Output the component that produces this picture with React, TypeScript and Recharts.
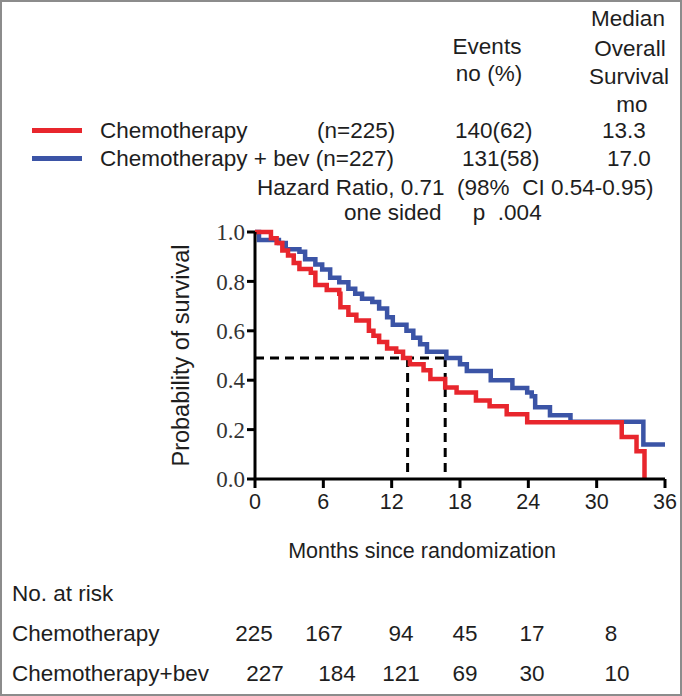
import { LineChart, Line, XAxis, YAxis, ReferenceLine } from 'recharts'

// Kaplan-Meier steps: [month, survival]
const chemoSteps: [number, number][] = [
  [0, 1.0], [1.4, 0.975], [1.9, 0.955], [2.4, 0.925], [2.9, 0.905], [3.4, 0.875],
  [3.9, 0.85], [4.9, 0.835], [5.3, 0.785], [6.3, 0.765], [7.4, 0.75], [7.5, 0.695],
  [8.2, 0.665], [8.9, 0.642], [10.0, 0.6], [10.4, 0.58], [10.9, 0.555], [11.6, 0.528],
  [12.4, 0.515], [13.0, 0.49], [13.6, 0.465], [14.8, 0.44], [15.4, 0.405], [16.7, 0.37],
  [17.7, 0.35], [19.4, 0.318], [20.6, 0.295], [22.1, 0.262], [23.9, 0.23], [32.2, 0.17],
  [33.5, 0.112], [34.2, 0.0],
]

const bevSteps: [number, number][] = [
  [0, 1.0], [0.35, 0.968], [2.1, 0.955], [2.7, 0.93], [3.9, 0.92], [4.4, 0.89],
  [5.3, 0.868], [5.9, 0.848], [6.6, 0.815], [7.4, 0.797], [8.2, 0.77], [8.8, 0.75],
  [9.4, 0.73], [10.3, 0.717], [10.9, 0.69], [11.6, 0.655], [12.1, 0.625], [13.3, 0.6],
  [13.9, 0.572], [14.5, 0.546], [15.1, 0.515], [16.8, 0.49], [18.0, 0.465], [18.6, 0.437],
  [20.7, 0.4], [22.6, 0.368], [23.9, 0.35], [24.3, 0.335], [24.6, 0.29], [25.9, 0.258],
  [27.7, 0.232], [34.1, 0.14], [36, 0.14],
]

const monthTicks = [0, 6, 12, 18, 24, 30, 36]
const survTicks = [0, 0.2, 0.4, 0.6, 0.8, 1.0]
const medianLevel = 0.49
const medians = [13.4, 16.7]

const atRiskChemo = [225, 167, 94, 45, 17, 8]
const atRiskBev = [227, 184, 121, 69, 30, 10]

const chemoData = chemoSteps.map(([t, s]) => ({ t, s }))
const bevData = bevSteps.map(([t, s]) => ({ t, s }))

const RED = '#e8262d'
const BLUE = '#3b54a6'
const SANS = '"Liberation Sans", Arial, sans-serif'
const SERIF = '"Liberation Serif", "Times New Roman", serif'

// column centres of the at-risk numbers (px)
const chemoCols = [252, 322, 399, 463, 530, 609]
const bevCols = [263, 335, 399, 463, 530, 615]

function T({ x, y, c, size, center, children }: { x: number; y: number; c?: string; size?: number; center?: boolean; children: any }) {
  return (
    <div
      style={{
        position: 'absolute',
        left: x,
        top: y,
        transform: center ? 'translate(-50%, -50%)' : 'translate(0, -50%)',
        whiteSpace: 'pre',
        fontFamily: SANS,
        fontSize: size ?? 22.5,
        lineHeight: 1,
        color: c ?? '#1e1e1e',
      }}
    >
      {children}
    </div>
  )
}

export default function App() {
  return (
    <div
      style={{
        position: 'relative',
        width: 682,
        height: 696,
        boxSizing: 'border-box',
        border: '2px solid #8c8c8c',
        background: '#fff',
        overflow: 'hidden',
      }}
    >
      <style>{'body{margin:0}'}</style>
      <div style={{ position: 'absolute', left: -2, top: -2 }}>
        <LineChart width={682} height={696} margin={{ top: 232, right: 17, bottom: 0, left: 195 }}>
          <XAxis
            type="number"
            dataKey="t"
            domain={[0, 36]}
            ticks={monthTicks}
            allowDuplicatedCategory={false}
            height={217}
            tickSize={9}
            tickMargin={6}
            stroke="#000"
            strokeWidth={3}
            tick={{ fontSize: 21.5, fontFamily: SANS, fill: '#1e1e1e' }}
          />
          <YAxis
            type="number"
            dataKey="s"
            domain={[0, 1]}
            ticks={survTicks}
            width={60}
            tickSize={8}
            tickMargin={2}
            stroke="#000"
            strokeWidth={3}
            tickFormatter={(v: number) => v.toFixed(1)}
            tick={{ fontSize: 23, fontFamily: SERIF, fill: '#333' }}
            label={{
              value: 'Probability of survival',
              angle: -90,
              position: 'left',
              offset: 14,
              style: { textAnchor: 'middle', fontSize: 23.5, fontFamily: SANS, fill: '#1e1e1e' },
            }}
          />
          <ReferenceLine
            segment={[{ x: 0, y: medianLevel }, { x: medians[1], y: medianLevel }]}
            stroke="#000"
            strokeWidth={3}
            strokeDasharray="9 6"
          />
          {medians.map((m) => (
            <ReferenceLine
              key={m}
              segment={[{ x: m, y: medianLevel }, { x: m, y: 0 }]}
              stroke="#000"
              strokeWidth={3}
              strokeDasharray="9 6"
            />
          ))}
          <Line
            data={bevData}
            dataKey="s"
            type="stepAfter"
            stroke={BLUE}
            strokeWidth={4.5}
            dot={false}
            isAnimationActive={false}
          />
          <Line
            data={chemoData}
            dataKey="s"
            type="stepAfter"
            stroke={RED}
            strokeWidth={4.5}
            dot={false}
            isAnimationActive={false}
          />
        </LineChart>
      </div>

      {/* header table */}
      <T x={626} y={17} center>Median</T>
      <T x={485} y={45} center>Events</T>
      <T x={628} y={47} center>Overall</T>
      <T x={487} y={72} center>no (%)</T>
      <T x={627} y={75} center>Survival</T>
      <T x={630} y={103} center>mo</T>

      <div style={{ position: 'absolute', left: 30, top: 126, width: 50, height: 5, background: RED }} />
      <T x={98} y={129}>Chemotherapy</T>
      <T x={315} y={129}>(n=225)</T>
      <T x={453} y={129}>140(62)</T>
      <T x={600} y={129}>13.3</T>

      <div style={{ position: 'absolute', left: 30, top: 154, width: 50, height: 5, background: BLUE }} />
      <T x={98} y={157}>Chemotherapy + bev (n=227)</T>
      <T x={460} y={157}>131(58)</T>
      <T x={605} y={157}>17.0</T>

      <T x={255} y={186}>Hazard Ratio, 0.71  (98%  CI 0.54-0.95)</T>
      <T x={342} y={211}>one sided     p  .004</T>

      <T x={420} y={550} size={21.5} center>Months since randomization</T>

      {/* numbers at risk */}
      <T x={10} y={592}>No. at risk</T>
      <T x={10} y={632}>Chemotherapy</T>
      <T x={10} y={672}>Chemotherapy+bev</T>
      {atRiskChemo.map((n, i) => (
        <T key={'c' + i} x={chemoCols[i]} y={632} center>{n}</T>
      ))}
      {atRiskBev.map((n, i) => (
        <T key={'b' + i} x={bevCols[i]} y={672} center>{n}</T>
      ))}
    </div>
  )
}
